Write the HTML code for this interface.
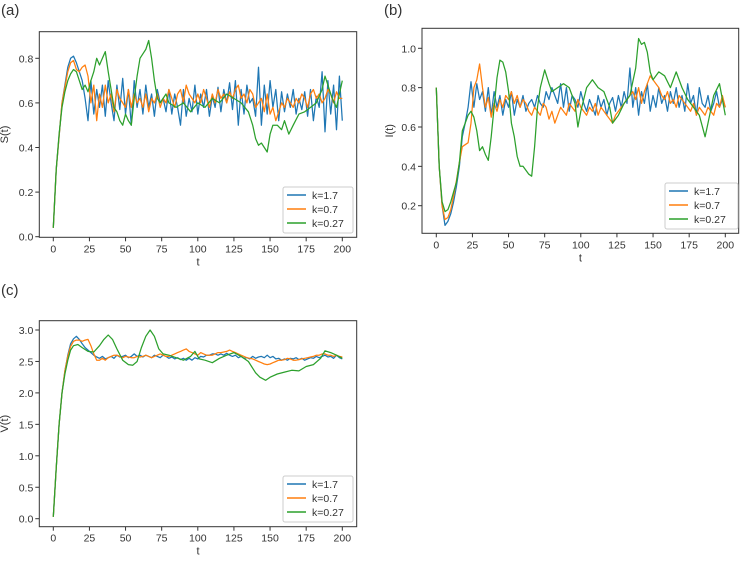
<!DOCTYPE html>
<html><head><meta charset="utf-8">
<style>
body{margin:0;background:#fff;width:745px;height:562px;overflow:hidden}
svg{display:block}
text{font-family:"Liberation Sans",sans-serif;fill:#333}
</style></head>
<body>
<svg id="fig" width="745" height="562" xmlns="http://www.w3.org/2000/svg"></svg>
<script>
// ---- data ----
const xTicks = [0,25,50,75,100,125,150,175,200];
const legendLabels = ["k=1.7","k=0.7","k=0.27"];
const colors = ["#1f77b4","#ff7f0e","#2ca02c"];

// evenly sampled series (t = 0..200)
const sTicks = [0.0,0.2,0.4,0.6,0.8];
const sBlue = [.04,.30,.45,.60,.68,.76,.80,.81,.78,.74,.70,.62,.52,.70,.55,.66,.58,.68,.54,.70,.60,.52,.68,.57,.71,.55,.66,.50,.70,.58,.66,.55,.68,.58,.64,.54,.66,.60,.62,.56,.66,.55,.64,.58,.50,.66,.54,.62,.56,.68,.55,.64,.58,.66,.54,.63,.58,.67,.56,.66,.60,.69,.57,.70,.50,.66,.55,.68,.60,.62,.54,.76,.50,.68,.55,.70,.58,.66,.52,.65,.56,.64,.58,.66,.55,.62,.57,.65,.54,.66,.52,.63,.58,.74,.47,.70,.55,.68,.48,.72,.52];
const sOrange = [.04,.30,.45,.60,.67,.74,.78,.79,.75,.74,.76,.77,.72,.60,.68,.52,.64,.58,.68,.60,.64,.56,.66,.62,.60,.58,.66,.58,.64,.60,.62,.58,.64,.56,.62,.60,.64,.58,.62,.60,.66,.62,.58,.64,.66,.60,.68,.64,.62,.60,.64,.60,.66,.62,.58,.64,.60,.66,.62,.64,.60,.65,.62,.66,.68,.62,.64,.60,.66,.64,.58,.60,.62,.56,.64,.55,.58,.52,.56,.60,.58,.62,.60,.58,.62,.60,.64,.62,.58,.64,.66,.62,.64,.60,.62,.66,.64,.60,.65,.62,.62];
// green series with explicit time points
const sGreenT = [0,2,4,6,8,10,12,14,16,18,20,22,24,26,28,30,32,34,36,38,40,42,44,46,48,50,52,54,56,58,60,62,64,66,68,70,72,74,76,78,80,85,90,95,100,105,110,115,120,125,130,135,138,140,142,144,146,148,150,152,155,158,160,163,166,170,174,178,182,186,188,190,193,196,200];
const sGreen = [.04,.30,.46,.58,.65,.70,.73,.75,.74,.70,.66,.68,.65,.70,.74,.80,.77,.80,.83,.74,.66,.58,.56,.52,.50,.55,.52,.50,.62,.72,.80,.82,.84,.88,.80,.70,.62,.60,.62,.64,.60,.58,.60,.56,.60,.58,.62,.60,.64,.62,.60,.56,.50,.44,.41,.42,.40,.38,.46,.50,.50,.48,.52,.46,.50,.55,.56,.58,.60,.66,.72,.68,.62,.58,.70];

const iTicks = [0.2,0.4,0.6,0.8,1.0];
const iBlue = [.80,.40,.20,.10,.12,.16,.22,.30,.40,.55,.62,.70,.83,.70,.82,.74,.78,.68,.80,.66,.78,.70,.76,.66,.74,.70,.78,.66,.74,.70,.76,.68,.72,.74,.70,.76,.72,.70,.78,.74,.80,.76,.72,.82,.70,.80,.68,.76,.74,.70,.78,.72,.68,.74,.70,.66,.76,.70,.74,.66,.72,.75,.68,.76,.70,.78,.72,.90,.70,.80,.66,.78,.72,.82,.68,.76,.70,.80,.72,.76,.68,.78,.72,.80,.70,.76,.68,.82,.72,.76,.66,.80,.72,.70,.76,.68,.72,.78,.70,.74,.70];
const iOrange = [.80,.40,.20,.13,.14,.18,.25,.33,.42,.50,.51,.52,.62,.80,.84,.92,.80,.70,.75,.65,.72,.68,.74,.70,.76,.74,.78,.72,.76,.70,.74,.72,.68,.66,.70,.68,.66,.72,.70,.64,.68,.62,.66,.70,.68,.66,.72,.70,.68,.74,.70,.68,.66,.70,.68,.72,.66,.70,.68,.66,.64,.62,.66,.68,.70,.72,.74,.76,.78,.74,.80,.72,.78,.82,.86,.84,.82,.80,.76,.74,.78,.72,.74,.70,.76,.74,.72,.70,.68,.72,.66,.70,.68,.66,.70,.68,.66,.72,.70,.76,.70];
const iGreenT = [0,2,4,6,8,10,12,14,16,18,20,22,24,26,28,30,32,34,36,38,40,42,44,46,48,50,52,54,56,58,60,62,64,66,68,70,72,75,78,80,84,88,92,96,98,100,104,108,112,116,120,122,126,130,134,138,140,142,144,146,148,150,154,158,162,166,170,174,178,182,186,188,192,196,200];
const iGreen = [.80,.40,.22,.17,.18,.22,.27,.32,.42,.58,.62,.66,.68,.65,.58,.48,.50,.46,.43,.55,.70,.85,.94,.93,.88,.78,.62,.55,.45,.40,.40,.38,.36,.35,.50,.70,.80,.89,.82,.78,.80,.82,.80,.72,.60,.68,.80,.84,.80,.78,.70,.62,.66,.72,.76,.90,1.05,1.02,1.03,.98,.88,.84,.88,.86,.80,.88,.80,.74,.70,.66,.55,.62,.76,.82,.66];

const vTicks = [0.0,0.5,1.0,1.5,2.0,2.5,3.0];
const vBlue = [.03,.8,1.5,2.0,2.35,2.6,2.78,2.86,2.9,2.85,2.78,2.72,2.68,2.64,2.6,2.57,2.55,2.58,2.54,2.56,2.58,2.55,2.6,2.57,2.58,2.6,2.56,2.58,2.62,2.58,2.6,2.57,2.6,2.58,2.56,2.6,2.58,2.56,2.6,2.58,2.55,2.57,2.54,2.56,2.53,2.55,2.52,2.55,2.52,2.56,2.54,2.58,2.57,2.6,2.6,2.62,2.62,2.6,2.62,2.6,2.63,2.6,2.58,2.6,2.56,2.58,2.55,2.56,2.54,2.58,2.55,2.57,2.58,2.56,2.6,2.56,2.58,2.54,2.55,2.52,2.54,2.52,2.55,2.54,2.56,2.53,2.55,2.52,2.54,2.56,2.55,2.58,2.56,2.58,2.6,2.57,2.58,2.55,2.6,2.56,2.54];
const vOrange = [.03,.8,1.5,2.0,2.35,2.58,2.74,2.82,2.84,2.84,2.82,2.84,2.85,2.75,2.62,2.52,2.52,2.55,2.52,2.56,2.58,2.6,2.6,2.58,2.56,2.58,2.57,2.56,2.56,2.58,2.57,2.58,2.6,2.58,2.56,2.58,2.6,2.62,2.6,2.58,2.58,2.6,2.62,2.64,2.66,2.68,2.7,2.66,2.64,2.62,2.6,2.64,2.62,2.6,2.6,2.6,2.62,2.64,2.64,2.65,2.66,2.68,2.66,2.64,2.62,2.6,2.58,2.56,2.55,2.54,2.52,2.5,2.48,2.46,2.45,2.46,2.48,2.5,2.52,2.52,2.53,2.55,2.54,2.52,2.52,2.53,2.54,2.55,2.56,2.57,2.58,2.6,2.6,2.62,2.62,2.6,2.6,2.58,2.6,2.58,2.57];
const vGreenT = [0,2,4,6,8,10,12,14,17,20,24,28,32,35,38,41,44,48,52,55,58,61,64,67,70,73,76,80,85,90,95,98,101,105,110,115,120,125,130,135,140,143,147,150,155,160,165,170,175,180,185,188,192,196,200];
const vGreen = [.03,.8,1.5,2.0,2.3,2.52,2.68,2.75,2.77,2.72,2.66,2.65,2.75,2.85,2.92,2.85,2.7,2.52,2.45,2.44,2.5,2.72,2.9,3.0,2.9,2.7,2.62,2.6,2.56,2.52,2.58,2.66,2.54,2.52,2.48,2.55,2.6,2.64,2.58,2.5,2.32,2.25,2.2,2.25,2.3,2.33,2.36,2.35,2.42,2.45,2.55,2.67,2.64,2.6,2.55];

const svg = document.getElementById('fig');
const NS = "http://www.w3.org/2000/svg";
function mk(tag, attrs, parent){const e=document.createElementNS(NS,tag);for(const k in attrs)e.setAttribute(k,attrs[k]);(parent||svg).appendChild(e);return e;}

function panel(cfg){
  const g = mk('g',{});
  
  
  const X = t => cfg.x0 + (cfg.x200 - cfg.x0) * t / 200;
  const Y = v => cfg.yA + (cfg.yB - cfg.yA) * (v - cfg.vA) / (cfg.vB - cfg.vA);
  const lab = mk('text',{x:cfg.lx,y:cfg.ly,'font-size':15,fill:'#111'},g);
  lab.textContent = cfg.letter;
  
  
  cfg.series.forEach((s,si)=>{
    const vals = s.v, ts = s.t;
    const n = vals.length;
    const pts = vals.map((v,i)=>{
      const t = ts ? ts[i] : i*200/(n-1);
      return X(t).toFixed(1)+','+Y(v).toFixed(1);
    }).join(' ');
    const pl = mk('polyline',{points:pts,fill:'none',stroke:colors[si],'stroke-width':1.25,'stroke-linejoin':'round'},g);
    
    
  });
  const fr = mk('rect',{x:cfg.bx0,y:cfg.by0,width:cfg.bx1-cfg.bx0,height:cfg.by1-cfg.by0,fill:'none',stroke:'#333','stroke-width':1},g);
  
  
  xTicks.forEach(t=>{
    mk('line',{x1:X(t),x2:X(t),y1:cfg.by1,y2:cfg.by1+4,stroke:'#333'},g);
    const tx = mk('text',{x:X(t),y:cfg.by1+15,'font-size':10.5,'text-anchor':'middle'},g);
    tx.textContent = t;
    
    
  });
  const xt = mk('text',{x:(cfg.bx0+cfg.bx1)/2,y:cfg.by1+28,'font-size':11,'text-anchor':'middle'},g);
  xt.textContent = 't';
  
  
  cfg.ticks.forEach(v=>{
    mk('line',{x1:cfg.bx0-4,x2:cfg.bx0,y1:Y(v),y2:Y(v),stroke:'#333'},g);
    const ty = mk('text',{x:cfg.bx0-6,y:Y(v)+4,'font-size':10.5,'text-anchor':'end'},g);
    ty.textContent = v.toFixed(1);
    
    
  });
  const yt = mk('text',{x:0,y:0,'font-size':11,'text-anchor':'middle',transform:`translate(${cfg.ytx},${(cfg.by0+cfg.by1)/2}) rotate(-90)`},g);
  yt.textContent = cfg.ylabel;
  
  
  const lg = mk('g',{},g);
  
  
  mk('rect',{x:cfg.legX,y:cfg.legY,width:cfg.legW,height:46,rx:2,fill:'#fff',stroke:'#ccc'},lg);
  legendLabels.forEach((l,i)=>{
    const yy = cfg.legY+8+i*14;
    const e = mk('g',{},lg);
    
    
    mk('line',{x1:cfg.legX+4,x2:cfg.legX+23,y1:yy,y2:yy,stroke:colors[i],'stroke-width':1.6},e);
    const t = mk('text',{x:cfg.legX+29,y:yy+4,'font-size':10.5},e);
    t.textContent = l;
  });
}

panel({name:'panel-a-susceptible',letter:'(a)',lx:1,ly:15,x0:53.3,x200:342.3,yA:236.7,vA:0,yB:58.3,vB:0.8,
  bx0:39.3,bx1:356.7,by0:31.7,by1:237.3,ticks:sTicks,ylabel:'S(t)',ytx:8,
  legX:283,legY:187,legW:70,series:[{v:sBlue},{v:sOrange},{v:sGreen,t:sGreenT}]});
panel({name:'panel-b-infected',letter:'(b)',lx:384,ly:15,x0:436.3,x200:725.3,yA:205.7,vA:0.2,yB:48.3,vB:1.0,
  bx0:422,bx1:738.7,by0:28.3,by1:233.3,ticks:iTicks,ylabel:'I(t)',ytx:393,
  legX:665,legY:183,legW:73,series:[{v:iBlue},{v:iOrange},{v:iGreen,t:iGreenT}]});
panel({name:'panel-c-virus',letter:'(c)',lx:1,ly:295,x0:53.3,x200:342.3,yA:518.7,vA:0,yB:330,vB:3.0,
  bx0:39.3,bx1:356.7,by0:320.7,by1:526.7,ticks:vTicks,ylabel:'V(t)',ytx:8,
  legX:283,legY:476,legW:70,series:[{v:vBlue},{v:vOrange},{v:vGreen,t:vGreenT}]});
</script>
</body></html>
